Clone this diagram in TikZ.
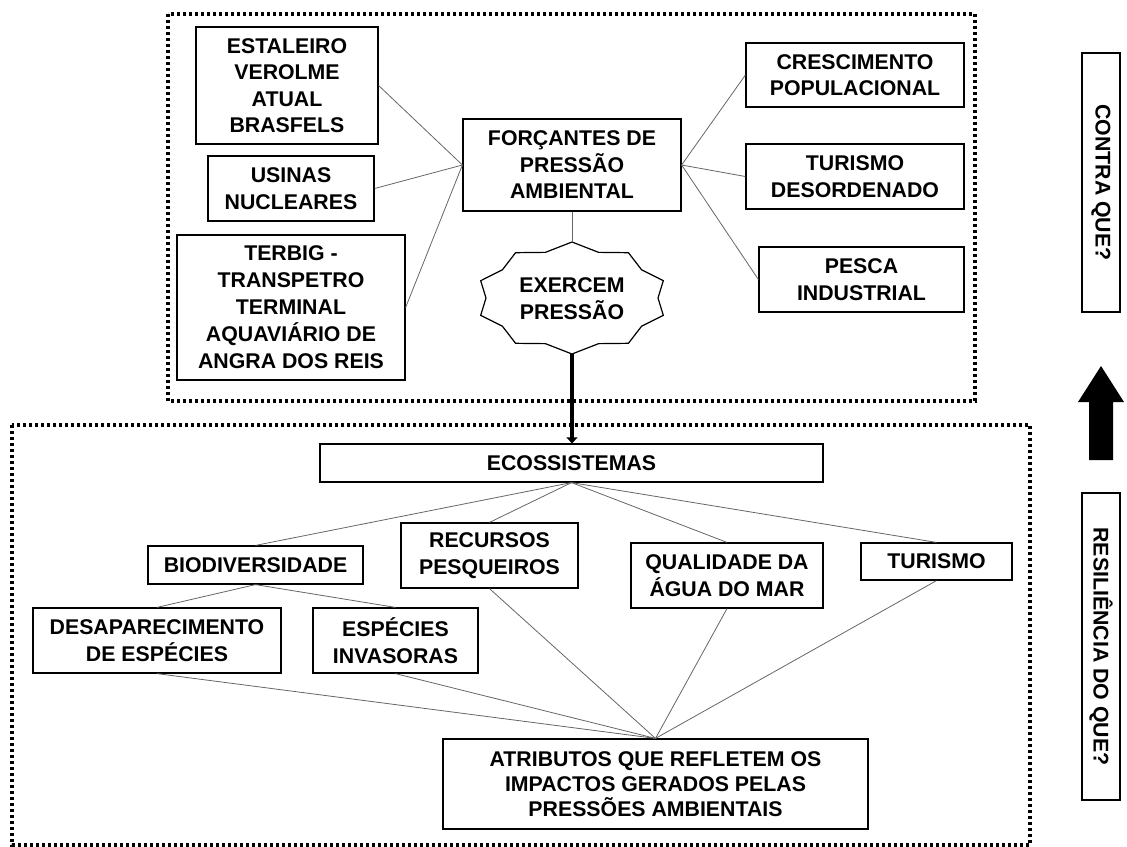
\documentclass[tikz,border=0pt]{standalone}
\usepackage{fontspec}
\setmainfont{Liberation Sans}
\usetikzlibrary{arrows.meta}
\begin{document}
\begin{tikzpicture}[x=1pt,y=-1pt,
  box/.style={draw=black, line width=1.2pt, fill=white, inner sep=0pt,
    align=center, font=\fontsize{21.3}{26.5}\selectfont\bfseries},
  link/.style={draw=black!60, line width=0.8pt},
  frame/.style={draw=black, line width=3.4pt, dash pattern=on 3pt off 3pt},
  starline/.style={draw=black, line width=1.2pt, fill=white, line join=miter},
  bigarrow/.style={draw=black, line width=4.4pt, -{Triangle[length=6pt,width=11pt]}}
]
\useasboundingbox (0,0) rectangle (1127,846);

% dotted frames
\draw[frame] (168,14) rectangle (975,401);
\draw[frame] (12,425) rectangle (1030,845);

% pressure drivers
\node[box, minimum width=182, minimum height=117] (estaleiro) at (287,85.5) {ESTALEIRO\\VEROLME\\ATUAL\\BRASFELS};
\node[box, minimum width=166, minimum height=65] (usinas) at (291,188.5) {USINAS\\NUCLEARES};
\node[box, minimum width=228, minimum height=145, font=\fontsize{21.3}{27}\selectfont\bfseries] (terbig) at (291,307.5) {TERBIG -\\TRANSPETRO\\TERMINAL\\AQUAVIÁRIO DE\\ANGRA DOS REIS};
\node[box, minimum width=218, minimum height=92] (forcantes) at (572,165) {FORÇANTES DE\\PRESSÃO\\AMBIENTAL};
\node[box, minimum width=218, minimum height=64] (crescimento) at (855,75) {CRESCIMENTO\\POPULACIONAL};
\node[box, minimum width=218, minimum height=65] (turdes) at (855,176.5) {TURISMO\\DESORDENADO};
\node[box, minimum width=205, minimum height=65] (pesca) at (861.5,279.5) {PESCA\\INDUSTRIAL};

\draw[link] (estaleiro.east) -- (forcantes.west);
\draw[link] (usinas.east) -- (forcantes.west);
\draw[link] (terbig.east) -- (forcantes.west);
\draw[link] (forcantes.east) -- (crescimento.west);
\draw[link] (forcantes.east) -- (turdes.west);
\draw[link] (forcantes.east) -- (pesca.west);

% burst shape
\begin{scope}[shift={(572,298)}]
  \path[starline] (90:96 and 56)
    \foreach \a in {0,36,...,288} { -- ({\a+108}:86 and 48) -- ({\a+126}:96 and 56) }
    -- (72:86 and 48) -- cycle;
\end{scope}
\node[font=\fontsize{21.3}{27}\selectfont\bfseries, align=center, inner sep=0pt] (exercem) at (572,298.5) {EXERCEM\\PRESSÃO};
\coordinate (startop) at (572,242);
\coordinate (starbot) at (572,354);

\draw[link] (forcantes.south) -- (startop);

% ecosystems
\node[box, minimum width=503, minimum height=38] (eco) at (571.5,463) {ECOSSISTEMAS};
\draw[bigarrow] (starbot) -- (starbot |- eco.north);

\node[box, minimum width=215, minimum height=38] (biodiv) at (255.5,565) {BIODIVERSIDADE};
\node[box, minimum width=177, minimum height=65] (recursos) at (489.5,555.5) {RECURSOS\\PESQUEIROS};
\node[box, minimum width=192, minimum height=65] (qualidade) at (727,575.5) {QUALIDADE DA\\ÁGUA DO MAR};
\node[box, minimum width=151, minimum height=37] (turismo) at (936.5,561.5) {TURISMO};
\node[box, minimum width=248, minimum height=65] (desap) at (157,640.5) {DESAPARECIMENTO\\DE ESPÉCIES};
\node[box, minimum width=165, minimum height=65] (especies) at (395.5,640.5) {ESPÉCIES\\INVASORAS};
\node[box, minimum width=425, minimum height=90, font=\fontsize{21.3}{25}\selectfont\bfseries] (atributos) at (655.5,784) {ATRIBUTOS QUE REFLETEM OS\\IMPACTOS GERADOS PELAS\\PRESSÕES AMBIENTAIS};

\draw[link] (eco.south) -- (biodiv.north);
\draw[link] (eco.south) -- (recursos.north);
\draw[link] (eco.south) -- (qualidade.north);
\draw[link] (eco.south) -- (turismo.north);
\draw[link] (biodiv.south) -- (desap.north);
\draw[link] (biodiv.south) -- (especies.north);
\draw[link] (desap.south) -- (atributos.north);
\draw[link] (especies.south) -- (atributos.north);
\draw[link] (recursos.south) -- (atributos.north);
\draw[link] (qualidade.south) -- (atributos.north);
\draw[link] (turismo.south) -- (atributos.north);

% side questions
\node[box, rotate=-90, minimum width=259, minimum height=38] (contra) at (1101,182.5) {CONTRA QUE?};
\node[box, rotate=-90, minimum width=307, minimum height=38] (resil) at (1101,646.5) {RESILIÊNCIA DO QUE?};
\fill[black] (1101,366) -- (1124,402) -- (1113,402) -- (1113,460) -- (1089,460) -- (1089,402) -- (1078,402) -- cycle;
\end{tikzpicture}
\end{document}
